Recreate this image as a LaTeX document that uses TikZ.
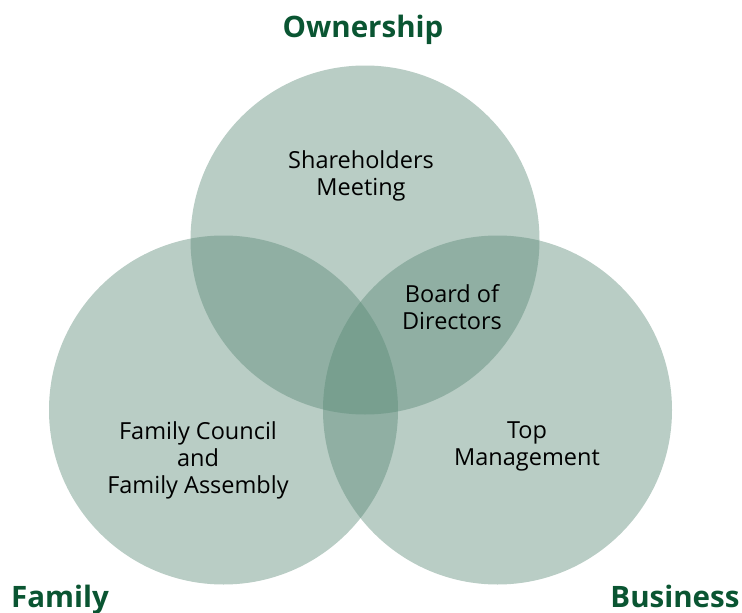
\documentclass[tikz,border=0pt]{standalone}
\usepackage{fontspec}
\setmainfont{Open Sans}
\usepackage{xcolor}
\usepackage{tikz}
\usetikzlibrary{positioning}
\definecolor{venngreen}{RGB}{87,135,116}
\definecolor{labelgreen}{RGB}{10,85,50}

\tikzset{
  ring/.style={fill=venngreen, fill opacity=0.42},
  setname/.style={text=labelgreen, anchor=base, inner sep=0pt, font=\fontsize{29.5}{34}\selectfont\bfseries},
  role/.style={align=center, font=\fontsize{23.5}{27}\selectfont}
}

\begin{document}
\begin{tikzpicture}[x=1pt, y=-1pt]
    \useasboundingbox (0,0) rectangle (742,613);
    % the three circles
    \fill[ring] (365,240) circle (174.5);
    \fill[ring] (223.5,410) circle (174.5);
    \fill[ring] (497.5,410) circle (174.5);
    % set names
    \node[setname] (own) at (363,37) {Ownership};
    \node[setname] (fam) at (60,607) {Family};
    \node[setname] (bus) at (675,607) {Business};
    % bodies
    \node[role] (share) at (361,176) {Shareholders\\Meeting};
    \node[role] (board) at (452,307) {Board of\\Directors};
    \node[role] (council) at (198,460) {Family Council\\and\\Family Assembly};
    \node[role] (topman) at (527,446) {Top\\Management};
\end{tikzpicture}
\end{document}
